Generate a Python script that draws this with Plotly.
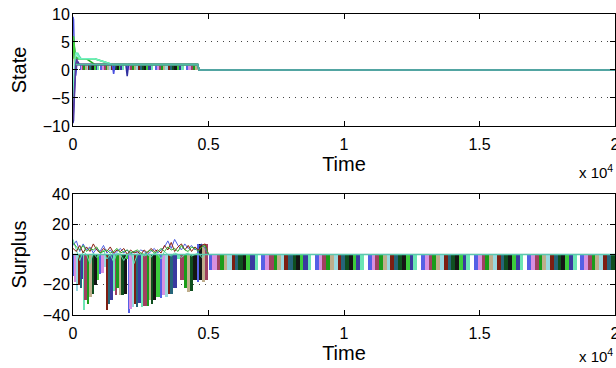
import plotly.graph_objects as go

# ---------------- DATA ----------------
# State panel: transients (time, values per series)
state_time = [0, 20, 40, 70, 100, 140, 180, 230, 300, 500, 800, 1450, 1500, 1550, 1950, 2000, 2050, 4600, 4650, 20000]
state_s1 = [9.5, 9, 5, 1, -1, 1, 1, 1, 1, 1, 1, 1, -0.7, 1, 1, 1, 1, 1, 0, 0]
state_s2 = [-9.5, -9, -6, -2, 0.5, 1, 1.5, 1, 1, 1, 1, 1, 1, 1, 1, -1.1, 1, 1, 0, 0]
state_s3 = [6, 5, 4, 3, 2, 2.2, 2, 2, 2, 2, 1, 1, 1, 1, 1, 1, 1, 1, 0, 0]
state_s4 = [-6, -5, -3, 0, 3, 3, 3, 2.5, 2, 2, 2, 1, 1, 1, 1, 1, 1, 1, 0, 0]
state_s5 = [5, 4, 3, 0, 1, 1.5, 1, 1, 1, 1, 1, 1, 1, 1, 1, 1, 1, 1, 0, 0]
state_s6 = [2, 6, 5, 3, 2, 2, 2, 2, 2, 2, 2, 1, 1, 1, 1, 1, 1, 1, 0, 0]
state_s7 = [-5.5, -4, -1, 2, 3, 3, 2.5, 2, 2, 2, 2, 1, 1, 1, 1, 1, 1, 1, 0, 0]
state_s8 = [-9, -7, -4, -1, 1, 2, 1, 1, 1, 1, 1, 1, 1, 1, 1, 1, 1, 1, 0, 0]
state_series = [state_s1, state_s2, state_s3, state_s4, state_s5, state_s6, state_s7, state_s8]

# State panel: switching band between 0 and 1
state_band_edges = [260, 300, 340, 400, 450, 520, 560, 610, 680, 730, 790, 850, 900, 960, 1020,
                    1090, 1150, 1230, 1290, 1360, 1420, 1480, 1560, 1630, 1700, 1760, 1830, 1900,
                    1980, 2050, 2120, 2190, 2270, 2340, 2410, 2490, 2560, 2640, 2710, 2790, 2860,
                    2940, 3020, 3100, 3180, 3260, 3330, 3410, 3500, 3580, 3660, 3740, 3830, 3910,
                    4000, 4080, 4170, 4260, 4340, 4430, 4520, 4600]
state_band_low = 0
state_band_high = 1

# Surplus panel: deep switching stripes before t=4560
surplus_early_edges = [0, 60, 130, 200, 260, 320, 380, 440, 500, 600, 690, 780, 870, 960, 1050,
                       1150, 1240, 1300, 1370, 1460, 1550, 1620, 1680, 1780, 1880, 1990, 2040,
                       2100, 2160, 2240, 2320, 2410, 2500, 2600, 2720, 2800, 2900, 2960, 3080,
                       3210, 3300, 3400, 3490, 3580, 3700, 3830, 3950, 4080, 4200, 4320, 4440, 4560]
surplus_early_low = [-14, -18, -24, -20, -22, -16, -37, -30, -33, -28, -26, -20, -17, -13, -12,
                     -8, -37, -33, -30, -24, -27, -22, -27, -27, -26, -3, -39, -36, -35, -33,
                     -35, -32, -35, -34, -34, -30, -33, -30, -28, -29, -27, -28, -26, -26, -22,
                     -3, -17, -22, -25, -24, -17]

# Surplus panel: block near t=5000
surplus_block_edges = [4560, 4660, 4760, 4860, 4990]
surplus_block_low = [-18, -17, -18, -17]
surplus_block_high = [7, 7, 7, 7]

# Surplus panel: late switching stripes (0 to -10)
surplus_late_edges = [5000, 5120, 5300, 5420, 5560, 5700, 5850, 5960, 6100, 6260, 6380, 6520, 6700,
                      6830, 6950, 7100, 7240, 7400, 7520, 7680, 7800, 7950, 8100, 8220, 8380, 8500,
                      8660, 8790, 8920, 9080, 9200, 9350, 9500, 9640, 9760, 9900, 10050, 10180,
                      10330, 10460, 10600, 10740, 10880, 11020, 11150, 11300, 11440, 11580, 11700,
                      11860, 12000, 12130, 12280, 12420, 12560, 12700, 12840, 12980, 13120, 13250,
                      13400, 13540, 13680, 13820, 13950, 14100, 14240, 14380, 14520, 14660, 14800,
                      14940, 15080, 15220, 15360, 15500, 15640, 15780, 15920, 16060, 16200, 16340,
                      16480, 16620, 16760, 16900, 17040, 17180, 17320, 17460, 17600, 17740, 17880,
                      18020, 18160, 18300, 18440, 18580, 18720, 18860, 19000, 19140, 19280, 19420,
                      19560, 19700, 19840, 20000]
surplus_late_low = -10
surplus_late_high = 0

# Surplus panel: fluctuating lines
surplus_time = [0, 125, 250, 375, 500, 625, 750, 875, 1000, 1125, 1250, 1375, 1500, 1625, 1750,
                1875, 2000, 2125, 2250, 2375, 2500, 2625, 2750, 2875, 3000, 3125, 3250, 3375,
                3500, 3625, 3750, 3875, 4000, 4125, 4250, 4375, 4500, 4625, 4750, 4875, 5000, 20000]
surplus_l1 = [10, 3, -4, 2, 0, -6, 1, -2, 0, 3, -3, 0, -5, 1, 0, -4, 0, 2, -6, 0, 1, -1, 0, -2,
              1, 0, -3, 2, 0, -1, 1, 0, -2, 0, 1, -1, 0, 1, -2, 0, 0, 0]
surplus_l2 = [6, 9, 2, 7, 3, 5, 1, 4, 2, 6, 1, 3, 0, 2, 4, 1, 3, 0, 2, 1, 3, 2, 0, 2, 4, 1, 3,
              5, 9, 4, 10, 6, 3, 7, 4, 6, 3, 5, 7, 4, 0, 0]
surplus_l3 = [4, 2, 6, 1, 5, 2, 7, 3, 1, 4, 2, 5, 1, 3, 2, 4, 0, 3, 1, 2, 0, 3, 1, 4, 2, 3, 1,
              6, 3, 8, 2, 5, 7, 3, 6, 2, 5, 3, 6, 7, 0, 0]
surplus_l4 = [8, 5, 3, 6, 2, 4, 3, 5, 1, 2, 3, 1, 2, 4, 1, 2, 3, 1, 2, 3, 1, 0, 2, 3, 1, 2, 4,
              2, 5, 3, 4, 2, 6, 3, 2, 5, 4, 2, 5, 6, 0, 0]
surplus_lines = [surplus_l1, surplus_l2, surplus_l3, surplus_l4]

x_tickvals = [0, 5000, 10000, 15000, 20000]
x_ticktext = ["0", "0.5", "1", "1.5", "2"]
state_ticks = [-10, -5, 0, 5, 10]
surplus_ticks = [-40, -20, 0, 20, 40]

# ---------------- STYLE ----------------
palette = ["#5560e6", "#1a9c1a", "#7d1e12", "#151515", "#6ce6b4", "#d890e0", "#bfae8c",
           "#25657a", "#3ccc3c", "#ffffff", "#a04060", "#9ad8e0", "#0f4f1f", "#3a3aa0"]
dense_palette = ["#5560e6", "#1a9c1a", "#7d1e12", "#151515", "#6ce6b4", "#d890e0", "#bfae8c",
                 "#25657a", "#3ccc3c", "#a04060", "#9ad8e0", "#0f4f1f", "#3a3aa0"]
line_colors = ["#4a50e0", "#3030a0", "#20b020", "#60e0b0", "#8a7a20", "#40d040", "#70f0c0", "#5a3aa0"]
surplus_line_colors = ["#60e0b0", "#5060e0", "#8b2010", "#30b030"]
FONT = "Liberation Sans, Arial, Helvetica, sans-serif"

fig = go.Figure()


def stripes(edges, low, high, xaxis, yaxis, stride, pal):
    xs, ws, bs, hs, cs = [], [], [], [], []
    n = len(edges) - 1
    for i in range(n):
        a, b = edges[i], edges[i + 1]
        lo = low[i] if isinstance(low, list) else low
        hi = high[i] if isinstance(high, list) else high
        xs.append((a + b) / 2)
        ws.append(b - a)
        bs.append(lo)
        hs.append(hi - lo)
        cs.append(pal[(i * stride) % len(pal)])
    fig.add_trace(go.Bar(x=xs, y=hs, base=bs, width=ws, xaxis=xaxis, yaxis=yaxis,
                         marker=dict(color=cs, line=dict(width=0)), showlegend=False,
                         hoverinfo="skip"))


# State panel
stripes(state_band_edges, state_band_low, state_band_high, "x", "y", 5, palette)
for i, s in enumerate(state_series):
    fig.add_trace(go.Scatter(x=state_time, y=s, mode="lines", xaxis="x", yaxis="y",
                             line=dict(color=line_colors[i], width=1.5), showlegend=False))
fig.add_trace(go.Scatter(x=[100, 4600, 4650, 20000], y=[1, 1, 0, 0], mode="lines", xaxis="x", yaxis="y",
                         line=dict(color="#4fbca4", width=1.5), showlegend=False))

# Surplus panel
stripes(surplus_early_edges, surplus_early_low, 0, "x2", "y2", 5, dense_palette)
stripes(surplus_block_edges, surplus_block_low, surplus_block_high, "x2", "y2", 3, dense_palette)
stripes(surplus_late_edges, surplus_late_low, surplus_late_high, "x2", "y2", 5, palette)
for i, s in enumerate(surplus_lines):
    fig.add_trace(go.Scatter(x=surplus_time, y=s, mode="lines", xaxis="x2", yaxis="y2",
                             line=dict(color=surplus_line_colors[i], width=1), showlegend=False))
fig.add_trace(go.Scatter(x=[0, 20000], y=[0, 0], mode="lines", xaxis="x2", yaxis="y2",
                         line=dict(color="#5cc8b0", width=1.5), showlegend=False))

axis_common = dict(showline=True, linecolor="black", linewidth=1, mirror="ticks",
                   ticks="inside", ticklen=5, tickcolor="black", automargin=False,
                   ticklabeloverflow="allow",
                   tickfont=dict(family=FONT, size=16, color="black"), zeroline=False)

xcommon = dict(axis_common, range=[0, 20000], tickvals=x_tickvals, ticktext=x_ticktext,
               showgrid=False, ticklabelstandoff=4,
               title=dict(text="Time", font=dict(family=FONT, size=20, color="black"), standoff=2))

ycommon = dict(axis_common, showgrid=True, gridcolor="#444444", griddash="1px,5px", gridwidth=1,
               ticklabelstandoff=-1)

fig.update_layout(
    width=616, height=368,
    margin=dict(l=73, r=1, t=14, b=53, autoexpand=False),
    paper_bgcolor="white", plot_bgcolor="white",
    barmode="overlay", bargap=0,
    xaxis=dict(xcommon, domain=[0, 1], anchor="y"),
    yaxis=dict(ycommon, domain=[0.628, 1], range=[-10, 10], tickvals=state_ticks,
               title=dict(text="State", font=dict(family=FONT, size=20, color="black"), standoff=10)),
    xaxis2=dict(xcommon, domain=[0, 1], anchor="y2"),
    yaxis2=dict(ycommon, domain=[0, 0.402], range=[-40, 40], tickvals=surplus_ticks,
                title=dict(text="Surplus", font=dict(family=FONT, size=20, color="black"), standoff=10)),
    annotations=[
        dict(text="x 10<sup>4</sup>", xref="paper", yref="paper", x=1.0, y=0.478,
             xanchor="right", yanchor="middle", showarrow=False,
             font=dict(family=FONT, size=15, color="black")),
        dict(text="x 10<sup>4</sup>", xref="paper", yref="paper", x=1.0, y=-0.135,
             xanchor="right", yanchor="middle", showarrow=False,
             font=dict(family=FONT, size=15, color="black")),
    ],
)

fig.write_html("out.html", config={"displayModeBar": False},
               post_script="document.body.style.margin='0';document.body.style.overflow='hidden';")
